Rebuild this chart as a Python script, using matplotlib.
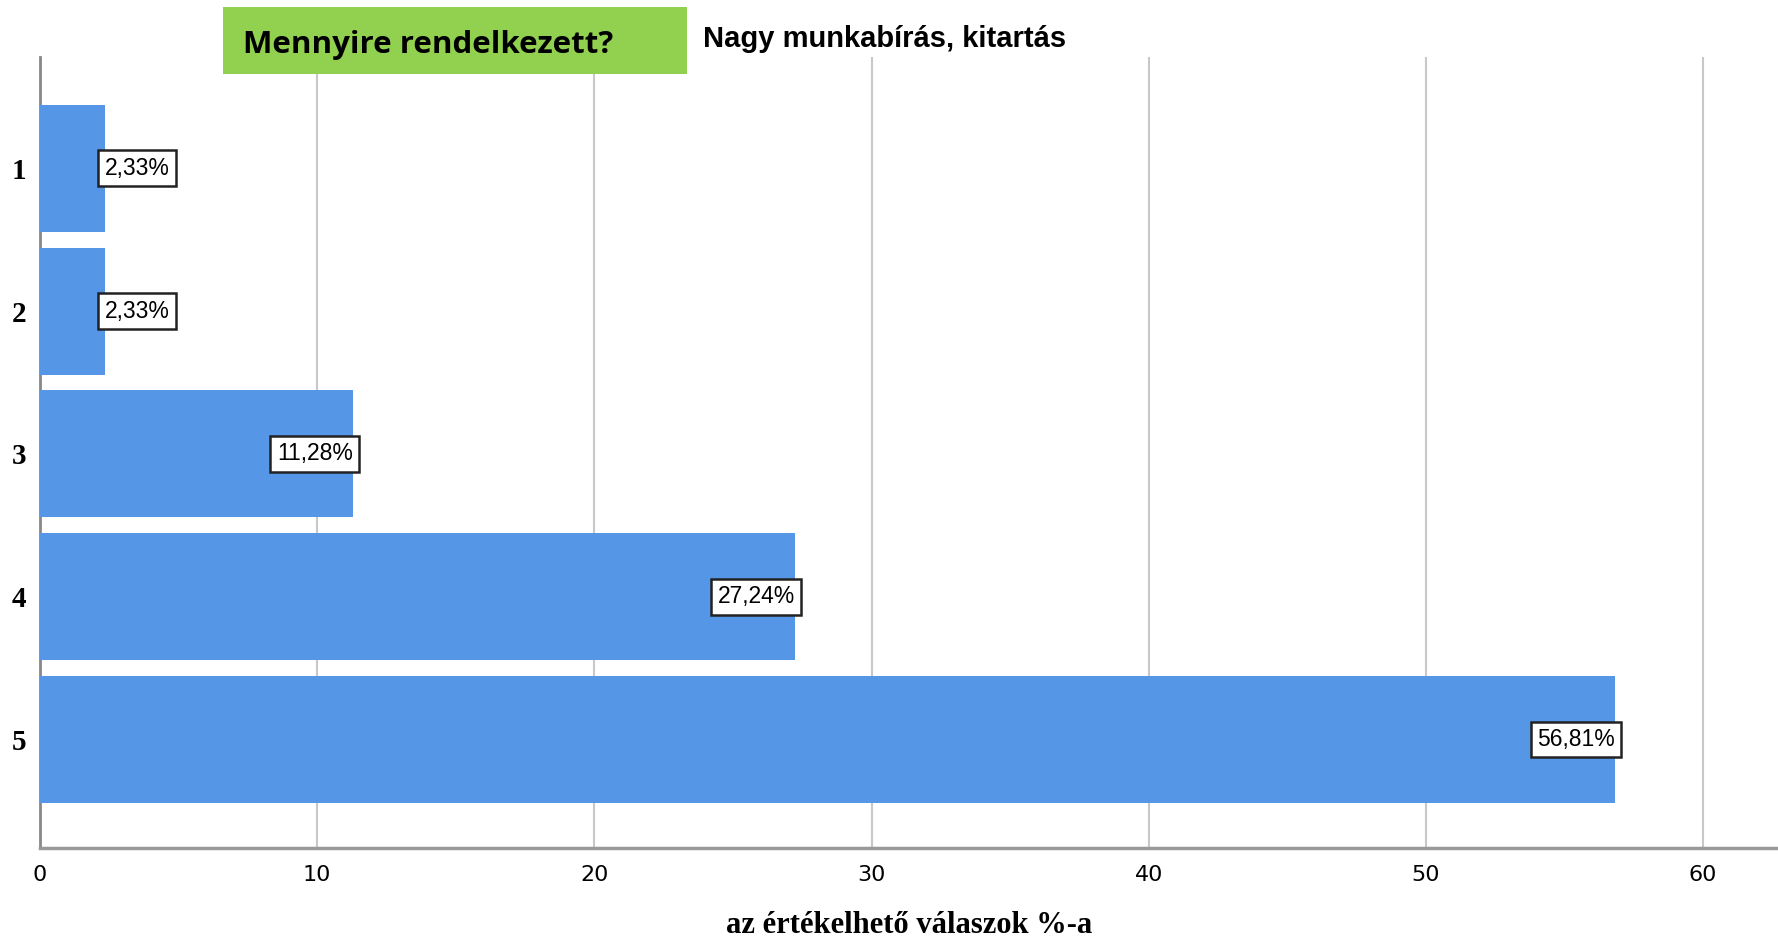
import matplotlib.pyplot as plt
from matplotlib.patches import Rectangle

# ======= Data =======
categories = ["1", "2", "3", "4", "5"]
percentages = [2.33, 2.33, 11.28, 27.24, 56.81]
value_labels = ["2,33%", "2,33%", "11,28%", "27,24%", "56,81%"]
x_ticks = [0, 10, 20, 30, 40, 50, 60]

title = "Nagy munkabírás, kitartás"
box_text = "Mennyire rendelkezett?"
x_label = "az értékelhető válaszok %-a"

bar_color = "#5596E6"
green = "#92D050"

# ======= Figure =======
fig = plt.figure(figsize=(17.78, 9.42), dpi=100)
ax = fig.add_axes([0.0225, 0.0998, 0.9775, 0.8397])

y_pos = list(range(1, len(categories) + 1))
ax.barh(y_pos, percentages, height=0.89, color=bar_color, zorder=3)

ax.set_xlim(0, 62.7)
ax.set_ylim(5.76, 0.22)
ax.set_xticks(x_ticks)
ax.set_xticklabels([str(t) for t in x_ticks],
                   family=["Liberation Sans Narrow", "DejaVu Sans"], fontsize=16)
ax.set_yticks(y_pos)
ax.set_yticklabels(categories, family="Liberation Serif", fontweight="bold", fontsize=21)
ax.tick_params(axis="both", length=0)
ax.tick_params(axis="x", pad=12)
ax.tick_params(axis="y", pad=10)

ax.grid(axis="x", color="#c8c8c8", linewidth=1.5, zorder=0)
for s in ["top", "right"]:
    ax.spines[s].set_visible(False)
ax.spines["left"].set_color("#888888")
ax.spines["left"].set_linewidth(2)
ax.spines["bottom"].set_color("#999999")
ax.spines["bottom"].set_linewidth(2.5)

# value labels in boxes
for y, v, lab in zip(y_pos, percentages, value_labels):
    ha = "left" if v < 5 else "right"
    ax.text(v, y, lab, ha=ha, va="center", fontsize=16.5,
            family="Liberation Sans", zorder=5,
            bbox=dict(boxstyle="square,pad=0.28", facecolor="white",
                      edgecolor="#222222", linewidth=1.8))

ax.set_xlabel(x_label, family="Liberation Serif", fontweight="bold",
              fontsize=22, labelpad=19)

# green label box and title
fig.patches.append(Rectangle((223 / 1778, 1 - 74 / 942), 464 / 1778, 67 / 942,
                             transform=fig.transFigure, facecolor=green,
                             edgecolor="none", zorder=10))
fig.text(243 / 1778, 1 - 45 / 942, box_text, family="Open Sans",
         fontweight="bold", fontsize=22.5, va="center", ha="left", zorder=11)
fig.text(703 / 1778, 1 - 39 / 942, title, family="Liberation Sans",
         fontweight="bold", fontsize=21, va="center", ha="left", zorder=11)

fig.savefig("out.png", dpi=100)
